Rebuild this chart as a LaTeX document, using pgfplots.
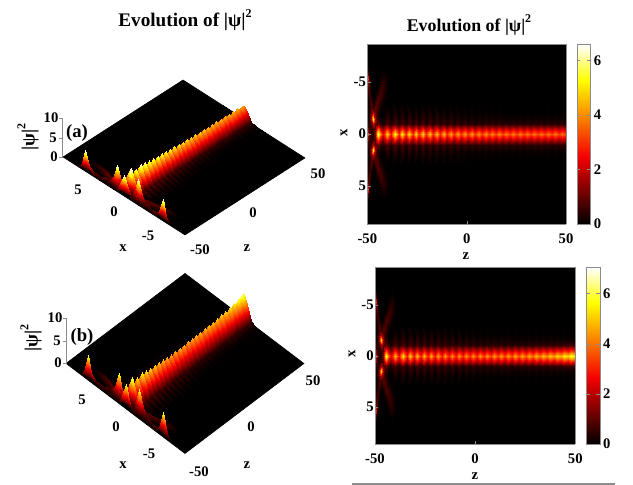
\documentclass[border=0pt]{standalone}
\usepackage{fontspec}
\setmainfont{Liberation Serif}
\usepackage{pgfplots}
\usepackage{pgfplotstable}
\pgfplotsset{compat=1.18}
\pgfplotsset{colormap={ehot}{rgb255(0cm)=(0,0,0) rgb255(3cm)=(245,0,0) rgb255(6.4cm)=(255,255,0) rgb255(8cm)=(255,255,255)}}

% start of the propagation, same for both runs (z x v), x>=0 half
\pgfplotstableread[row sep=crcr]{
z x v\\
-50 0 5.5\\-50 .5 2.5\\-50 1 .6\\-50 1.5 .1\\-50 2 .1\\-50 2.5 .1\\-50 3 .1\\-50 3.5 .1\\-50 4 .2\\-50 4.5 .4\\-50 5 2\\-50 5.5 5.5\\-50 6 1.5\\-50 6.5 .2\\
-49 0 .8\\-49 .5 .6\\-49 1 .5\\-49 1.5 .3\\-49 2 .2\\-49 2.5 .2\\-49 3 .2\\-49 3.5 .4\\-49 4 .8\\-49 4.5 .8\\-49 5 .4\\-49 5.5 .1\\-49 6 0\\-49 6.5 0\\
-48 0 .4\\-48 .5 .4\\-48 1 .6\\-48 1.5 1.8\\-48 2 .9\\-48 2.5 .8\\-48 3 .9\\-48 3.5 .4\\-48 4 .1\\-48 4.5 0\\-48 5 0\\-48 5.5 0\\-48 6 0\\-48 6.5 0\\
-47 0 .3\\-47 .5 .5\\-47 1 2\\-47 1.5 5.5\\-47 2 2\\-47 2.5 .5\\-47 3 .1\\-47 3.5 0\\-47 4 0\\-47 4.5 0\\-47 5 0\\-47 5.5 0\\-47 6 0\\-47 6.5 0\\
-46 0 1.5\\-46 .5 .7\\-46 1 .7\\-46 1.5 1.8\\-46 2 1.1\\-46 2.5 .9\\-46 3 .5\\-46 3.5 .1\\-46 4 0\\-46 4.5 0\\-46 5 0\\-46 5.5 0\\-46 6 0\\-46 6.5 0\\
-45 0 5\\-45 .5 2.9\\-45 1 .7\\-45 1.5 .4\\-45 2 .5\\-45 2.5 .8\\-45 3 .9\\-45 3.5 .6\\-45 4 .2\\-45 4.5 0\\-45 5 0\\-45 5.5 0\\-45 6 0\\-45 6.5 0\\
-44.5 0 6\\-44.5 .5 3.6\\-44.5 1 1\\-44.5 1.5 .5\\-44.5 2 .3\\-44.5 2.5 .5\\-44.5 3 .8\\-44.5 3.5 .8\\-44.5 4 .4\\-44.5 4.5 .1\\-44.5 5 0\\-44.5 5.5 0\\-44.5 6 0\\-44.5 6.5 0\\
-44 0 5\\-44 .5 3\\-44 1 .8\\-44 1.5 .3\\-44 2 .1\\-44 2.5 .3\\-44 3 .5\\-44 3.5 .8\\-44 4 .6\\-44 4.5 .2\\-44 5 0\\-44 5.5 0\\-44 6 0\\-44 6.5 0\\
-43 0 3.4\\-43 .5 1.9\\-43 1 .4\\-43 1.5 .1\\-43 2 0\\-43 2.5 .1\\-43 3 .2\\-43 3.5 .5\\-43 4 .7\\-43 4.5 .6\\-43 5 .3\\-43 5.5 .1\\-43 6 0\\-43 6.5 0\\
-42.25 0 2.4\\-42.25 .5 1.3\\-42.25 1 .25\\-42.25 1.5 .1\\-42.25 2 0\\-42.25 2.5 0\\-42.25 3 .1\\-42.25 3.5 .2\\-42.25 4 .4\\-42.25 4.5 .5\\-42.25 5 .45\\-42.25 5.5 .25\\-42.25 6 .05\\-42.25 6.5 0\\
-41 0 3.5\\-41 .5 2.1\\-41 1 .5\\-41 1.5 .25\\-41 2 .1\\-41 2.5 0\\-41 3 0\\-41 3.5 .1\\-41 4 .2\\-41 4.5 .3\\-41 5 .3\\-41 5.5 .25\\-41 6 .1\\-41 6.5 0\\
-40 0 5\\-40 .5 3\\-40 1 .8\\-40 1.5 .55\\-40 2 .3\\-40 2.5 .1\\-40 3 0\\-40 3.5 0\\-40 4 .05\\-40 4.5 .1\\-40 5 .1\\-40 5.5 .05\\-40 6 0\\-40 6.5 0\\
}\earlytab

% run (a), ridge from z=-40 on
\pgfplotstableread[row sep=crcr]{
z x v\\
-40 0 5\\-40 .5 3\\-40 1 .8\\-40 1.5 .55\\-40 2 .3\\-40 3 0\\
-38 0 2.8\\-38 .5 1.55\\-38 1 .3\\-38 1.5 .1\\-38 2 0\\-38 3 0\\
-36 0 5.4\\-36 .5 3.2\\-36 1 .8\\-36 1.5 .55\\-36 2 .3\\-36 3 0\\
-34.25 0 3\\-34.25 .5 1.65\\-34.25 1 .3\\-34.25 1.5 .1\\-34.25 2 0\\-34.25 3 0\\
-32.5 0 5.2\\-32.5 .5 3.1\\-32.5 1 .8\\-32.5 1.5 .55\\-32.5 2 .3\\-32.5 3 0\\
-30.75 0 3\\-30.75 .5 1.65\\-30.75 1 .3\\-30.75 1.5 .1\\-30.75 2 0\\-30.75 3 0\\
-29 0 5\\-29 .5 3\\-29 1 .75\\-29 1.5 .55\\-29 2 .3\\-29 3 0\\
-27.25 0 3\\-27.25 .5 1.65\\-27.25 1 .3\\-27.25 1.5 .1\\-27.25 2 0\\-27.25 3 0\\
-25.5 0 4.9\\-25.5 .5 2.9\\-25.5 1 .75\\-25.5 1.5 .5\\-25.5 2 .3\\-25.5 3 0\\
-23.75 0 3\\-23.75 .5 1.65\\-23.75 1 .3\\-23.75 1.5 .1\\-23.75 2 0\\-23.75 3 0\\
-22 0 4.8\\-22 .5 2.9\\-22 1 .75\\-22 1.5 .5\\-22 2 .3\\-22 3 0\\
-20.25 0 3\\-20.25 .5 1.65\\-20.25 1 .3\\-20.25 1.5 .1\\-20.25 2 0\\-20.25 3 0\\
-18.5 0 4.7\\-18.5 .5 2.8\\-18.5 1 .7\\-18.5 1.5 .5\\-18.5 2 .28\\-18.5 3 0\\
-16.75 0 3\\-16.75 .5 1.65\\-16.75 1 .3\\-16.75 1.5 .1\\-16.75 2 0\\-16.75 3 0\\
-15 0 4.6\\-15 .5 2.8\\-15 1 .7\\-15 1.5 .45\\-15 2 .25\\-15 3 0\\
-13.25 0 3\\-13.25 .5 1.65\\-13.25 1 .3\\-13.25 1.5 .1\\-13.25 2 0\\-13.25 3 0\\
-11.5 0 4.5\\-11.5 .5 2.7\\-11.5 1 .65\\-11.5 1.5 .42\\-11.5 2 .22\\-11.5 3 0\\
-9.75 0 3\\-9.75 .5 1.65\\-9.75 1 .3\\-9.75 1.5 .1\\-9.75 2 0\\-9.75 3 0\\
-8 0 4.4\\-8 .5 2.6\\-8 1 .6\\-8 1.5 .4\\-8 2 .2\\-8 3 0\\
-6.25 0 3\\-6.25 .5 1.65\\-6.25 1 .3\\-6.25 1.5 .1\\-6.25 2 0\\-6.25 3 0\\
-4.5 0 4.3\\-4.5 .5 2.6\\-4.5 1 .6\\-4.5 1.5 .35\\-4.5 2 .18\\-4.5 3 0\\
-2.75 0 3.1\\-2.75 .5 1.7\\-2.75 1 .3\\-2.75 1.5 .1\\-2.75 2 0\\-2.75 3 0\\
-1 0 4.2\\-1 .5 2.5\\-1 1 .55\\-1 1.5 .3\\-1 2 .14\\-1 3 0\\
.75 0 3.1\\.75 .5 1.7\\.75 1 .3\\.75 1.5 .1\\.75 2 0\\.75 3 0\\
2.5 0 4.2\\2.5 .5 2.5\\2.5 1 .5\\2.5 1.5 .25\\2.5 2 .1\\2.5 3 0\\
4.25 0 3.1\\4.25 .5 1.7\\4.25 1 .3\\4.25 1.5 .1\\4.25 2 0\\4.25 3 0\\
6 0 4.1\\6 .5 2.45\\6 1 .5\\6 1.5 .25\\6 2 .1\\6 3 0\\
7.75 0 3.1\\7.75 .5 1.7\\7.75 1 .3\\7.75 1.5 .1\\7.75 2 0\\7.75 3 0\\
9.5 0 4.1\\9.5 .5 2.45\\9.5 1 .5\\9.5 1.5 .25\\9.5 2 .1\\9.5 3 0\\
11.25 0 3.2\\11.25 .5 1.75\\11.25 1 .32\\11.25 1.5 .1\\11.25 2 0\\11.25 3 0\\
13 0 4\\13 .5 2.4\\13 1 .5\\13 1.5 .22\\13 2 .08\\13 3 0\\
14.75 0 3.2\\14.75 .5 1.75\\14.75 1 .32\\14.75 1.5 .1\\14.75 2 0\\14.75 3 0\\
16.5 0 4\\16.5 .5 2.4\\16.5 1 .5\\16.5 1.5 .22\\16.5 2 .08\\16.5 3 0\\
18.25 0 3.2\\18.25 .5 1.75\\18.25 1 .32\\18.25 1.5 .1\\18.25 2 0\\18.25 3 0\\
20 0 3.9\\20 .5 2.35\\20 1 .45\\20 1.5 .18\\20 2 .06\\20 3 0\\
21.75 0 3.2\\21.75 .5 1.75\\21.75 1 .32\\21.75 1.5 .1\\21.75 2 0\\21.75 3 0\\
23.5 0 3.9\\23.5 .5 2.35\\23.5 1 .45\\23.5 1.5 .18\\23.5 2 .06\\23.5 3 0\\
25.25 0 3.2\\25.25 .5 1.75\\25.25 1 .32\\25.25 1.5 .1\\25.25 2 0\\25.25 3 0\\
27 0 3.9\\27 .5 2.35\\27 1 .45\\27 1.5 .18\\27 2 .06\\27 3 0\\
28.75 0 3.2\\28.75 .5 1.75\\28.75 1 .32\\28.75 1.5 .1\\28.75 2 0\\28.75 3 0\\
30.5 0 3.8\\30.5 .5 2.3\\30.5 1 .45\\30.5 1.5 .18\\30.5 2 .06\\30.5 3 0\\
32.25 0 3.2\\32.25 .5 1.75\\32.25 1 .32\\32.25 1.5 .1\\32.25 2 0\\32.25 3 0\\
34 0 3.8\\34 .5 2.3\\34 1 .45\\34 1.5 .18\\34 2 .06\\34 3 0\\
35.75 0 3.2\\35.75 .5 1.75\\35.75 1 .32\\35.75 1.5 .1\\35.75 2 0\\35.75 3 0\\
37.5 0 3.8\\37.5 .5 2.3\\37.5 1 .45\\37.5 1.5 .18\\37.5 2 .06\\37.5 3 0\\
39.25 0 3.2\\39.25 .5 1.75\\39.25 1 .32\\39.25 1.5 .1\\39.25 2 0\\39.25 3 0\\
41 0 3.8\\41 .5 2.3\\41 1 .45\\41 1.5 .18\\41 2 .06\\41 3 0\\
42.75 0 3.2\\42.75 .5 1.75\\42.75 1 .32\\42.75 1.5 .1\\42.75 2 0\\42.75 3 0\\
44.5 0 3.8\\44.5 .5 2.3\\44.5 1 .45\\44.5 1.5 .18\\44.5 2 .06\\44.5 3 0\\
46.25 0 3.2\\46.25 .5 1.75\\46.25 1 .32\\46.25 1.5 .1\\46.25 2 0\\46.25 3 0\\
48 0 3.7\\48 .5 2.2\\48 1 .45\\48 1.5 .18\\48 2 .06\\48 3 0\\
50 0 3.2\\50 .5 1.75\\50 1 .32\\50 1.5 .1\\50 2 0\\50 3 0\\
}\ridgea

% run (b)
\pgfplotstableread[row sep=crcr]{
z x v\\
-40 0 5\\-40 .5 3\\-40 1 .8\\-40 1.5 .55\\-40 2 .3\\-40 3 0\\
-38 0 2.8\\-38 .5 1.55\\-38 1 .3\\-38 1.5 .1\\-38 2 0\\-38 3 0\\
-36 0 5.3\\-36 .5 3.2\\-36 1 .8\\-36 1.5 .55\\-36 2 .3\\-36 3 0\\
-34.25 0 3\\-34.25 .5 1.65\\-34.25 1 .3\\-34.25 1.5 .1\\-34.25 2 0\\-34.25 3 0\\
-32.5 0 5.1\\-32.5 .5 3.1\\-32.5 1 .8\\-32.5 1.5 .55\\-32.5 2 .3\\-32.5 3 0\\
-30.75 0 3\\-30.75 .5 1.65\\-30.75 1 .3\\-30.75 1.5 .1\\-30.75 2 0\\-30.75 3 0\\
-29 0 4.9\\-29 .5 2.9\\-29 1 .75\\-29 1.5 .55\\-29 2 .3\\-29 3 0\\
-27.25 0 3\\-27.25 .5 1.65\\-27.25 1 .3\\-27.25 1.5 .1\\-27.25 2 0\\-27.25 3 0\\
-25.5 0 4.8\\-25.5 .5 2.9\\-25.5 1 .75\\-25.5 1.5 .5\\-25.5 2 .3\\-25.5 3 0\\
-23.75 0 3\\-23.75 .5 1.65\\-23.75 1 .3\\-23.75 1.5 .1\\-23.75 2 0\\-23.75 3 0\\
-22 0 4.7\\-22 .5 2.8\\-22 1 .7\\-22 1.5 .5\\-22 2 .28\\-22 3 0\\
-20.25 0 3\\-20.25 .5 1.65\\-20.25 1 .3\\-20.25 1.5 .1\\-20.25 2 0\\-20.25 3 0\\
-18.5 0 4.6\\-18.5 .5 2.8\\-18.5 1 .7\\-18.5 1.5 .5\\-18.5 2 .28\\-18.5 3 0\\
-16.75 0 3\\-16.75 .5 1.65\\-16.75 1 .3\\-16.75 1.5 .1\\-16.75 2 0\\-16.75 3 0\\
-15 0 4.5\\-15 .5 2.7\\-15 1 .65\\-15 1.5 .45\\-15 2 .25\\-15 3 0\\
-13.25 0 3\\-13.25 .5 1.65\\-13.25 1 .3\\-13.25 1.5 .1\\-13.25 2 0\\-13.25 3 0\\
-11.5 0 4.4\\-11.5 .5 2.6\\-11.5 1 .65\\-11.5 1.5 .42\\-11.5 2 .22\\-11.5 3 0\\
-9.75 0 3\\-9.75 .5 1.65\\-9.75 1 .3\\-9.75 1.5 .1\\-9.75 2 0\\-9.75 3 0\\
-8 0 4.4\\-8 .5 2.6\\-8 1 .6\\-8 1.5 .4\\-8 2 .2\\-8 3 0\\
-6.25 0 3.1\\-6.25 .5 1.7\\-6.25 1 .3\\-6.25 1.5 .1\\-6.25 2 0\\-6.25 3 0\\
-4.5 0 4.4\\-4.5 .5 2.6\\-4.5 1 .6\\-4.5 1.5 .35\\-4.5 2 .18\\-4.5 3 0\\
-2.75 0 3.2\\-2.75 .5 1.75\\-2.75 1 .32\\-2.75 1.5 .1\\-2.75 2 0\\-2.75 3 0\\
-1 0 4.4\\-1 .5 2.6\\-1 1 .55\\-1 1.5 .3\\-1 2 .14\\-1 3 0\\
.75 0 3.2\\.75 .5 1.75\\.75 1 .32\\.75 1.5 .1\\.75 2 0\\.75 3 0\\
2.5 0 4.4\\2.5 .5 2.6\\2.5 1 .5\\2.5 1.5 .25\\2.5 2 .1\\2.5 3 0\\
4.25 0 3.3\\4.25 .5 1.8\\4.25 1 .33\\4.25 1.5 .1\\4.25 2 0\\4.25 3 0\\
6 0 4.4\\6 .5 2.6\\6 1 .5\\6 1.5 .25\\6 2 .1\\6 3 0\\
7.75 0 3.3\\7.75 .5 1.8\\7.75 1 .33\\7.75 1.5 .1\\7.75 2 0\\7.75 3 0\\
9.5 0 4.5\\9.5 .5 2.7\\9.5 1 .5\\9.5 1.5 .25\\9.5 2 .1\\9.5 3 0\\
11.25 0 3.4\\11.25 .5 1.87\\11.25 1 .34\\11.25 1.5 .1\\11.25 2 0\\11.25 3 0\\
13 0 4.5\\13 .5 2.7\\13 1 .5\\13 1.5 .22\\13 2 .08\\13 3 0\\
14.75 0 3.4\\14.75 .5 1.87\\14.75 1 .34\\14.75 1.5 .1\\14.75 2 0\\14.75 3 0\\
16.5 0 4.5\\16.5 .5 2.7\\16.5 1 .5\\16.5 1.5 .22\\16.5 2 .08\\16.5 3 0\\
18.25 0 3.5\\18.25 .5 1.9\\18.25 1 .35\\18.25 1.5 .1\\18.25 2 0\\18.25 3 0\\
20 0 4.6\\20 .5 2.8\\20 1 .5\\20 1.5 .2\\20 2 .08\\20 3 0\\
21.75 0 3.6\\21.75 .5 2\\21.75 1 .36\\21.75 1.5 .1\\21.75 2 0\\21.75 3 0\\
23.5 0 4.6\\23.5 .5 2.8\\23.5 1 .5\\23.5 1.5 .2\\23.5 2 .08\\23.5 3 0\\
25.25 0 3.7\\25.25 .5 2\\25.25 1 .37\\25.25 1.5 .1\\25.25 2 0\\25.25 3 0\\
27 0 4.7\\27 .5 2.8\\27 1 .5\\27 1.5 .2\\27 2 .08\\27 3 0\\
28.75 0 3.8\\28.75 .5 2.1\\28.75 1 .38\\28.75 1.5 .1\\28.75 2 0\\28.75 3 0\\
30.5 0 4.8\\30.5 .5 2.9\\30.5 1 .55\\30.5 1.5 .2\\30.5 2 .08\\30.5 3 0\\
32.25 0 4\\32.25 .5 2.2\\32.25 1 .4\\32.25 1.5 .1\\32.25 2 0\\32.25 3 0\\
34 0 4.9\\34 .5 2.9\\34 1 .55\\34 1.5 .2\\34 2 .08\\34 3 0\\
35.75 0 4.2\\35.75 .5 2.3\\35.75 1 .42\\35.75 1.5 .1\\35.75 2 0\\35.75 3 0\\
37.5 0 5\\37.5 .5 3\\37.5 1 .55\\37.5 1.5 .2\\37.5 2 .08\\37.5 3 0\\
39.25 0 4.4\\39.25 .5 2.4\\39.25 1 .44\\39.25 1.5 .1\\39.25 2 0\\39.25 3 0\\
41 0 5.2\\41 .5 3.1\\41 1 .6\\41 1.5 .2\\41 2 .08\\41 3 0\\
42.75 0 4.7\\42.75 .5 2.6\\42.75 1 .47\\42.75 1.5 .1\\42.75 2 0\\42.75 3 0\\
44.5 0 5.5\\44.5 .5 3.3\\44.5 1 .65\\44.5 1.5 .2\\44.5 2 .08\\44.5 3 0\\
46.25 0 5.1\\46.25 .5 2.8\\46.25 1 .51\\46.25 1.5 .1\\46.25 2 0\\46.25 3 0\\
48 0 5.9\\48 .5 3.5\\48 1 .7\\48 1.5 .2\\48 2 .08\\48 3 0\\
50 0 5.4\\50 .5 3\\50 1 .54\\50 1.5 .1\\50 2 0\\50 3 0\\
}\ridgeb

\pgfplotsset{
  patchstyle/.style={surf,shader=interp,z buffer=sort,mesh/ordering=y varies},
  heat/.style={
    scale only axis,view={0}{90},colormap name=ehot,
    axis background/.style={fill=black},
    axis line style={draw=black!45},
    tick style={draw=black!45},major tick length=2.5pt,
    tick align=inside,xtick pos=bottom,ytick pos=left,
    xmin=-50,xmax=50,ymin=-8.66,ymax=8.66,y dir=reverse,
    xtick={-50,0,50},xticklabels={-50,0,50},
    ytick={-5,0,5},yticklabels={-5,0,5},
    tick label style={font=\bfseries\fontsize{11}{12}\selectfont},
    xticklabel style={yshift=-3.5pt},
    yticklabel style={xshift=2.5pt},
    point meta min=0,
    colorbar,
    colorbar style={
      width=10pt,xshift=-9pt,
      axis line style={draw=black!45},
      tick style={draw=black!45},
      ytick={0,2,4,6},yticklabels={0,2,4,6},
      major tick length=2.5pt,tick align=inside,
      tick label style={font=\bfseries\fontsize{11}{12}\selectfont},
      yticklabel style={xshift=-1pt},
    },
  },
  box3d/.style={
    hide axis,clip=false,colormap name=ehot,point meta min=0,
    xmin=-50,xmax=50,ymin=-8.66,ymax=8.66,zmin=0,zmax=10,
  },
}
% one half of the field after the other, far side first
\newcommand{\field}[1]{
  \addplot3[patchstyle,mesh/rows=6] table[x=z,y=x,z=v] {#1};
  \addplot3[patchstyle,mesh/rows=14] table[x=z,y=x,z=v] {\earlytab};
  \addplot3[patchstyle,mesh/rows=6] table[x=z,y expr=-\thisrow{x},z=v] {#1};
  \addplot3[patchstyle,mesh/rows=14] table[x=z,y expr=-\thisrow{x},z=v] {\earlytab};
}
\newcommand{\ground}{
  \addplot3[surf,shader=flat,mesh/rows=2] coordinates {(-50,-8.66,0) (50,-8.66,0) (-50,8.66,0) (50,8.66,0)};
}
\newcommand{\psisq}{|ψ|\raisebox{.5em}{\small 2}}
\tikzset{lab/.style={font=\bfseries\fontsize{11}{12}\selectfont,inner sep=0pt}}

\begin{document}
\begin{tikzpicture}[x=0.75pt,y=-0.75pt]
\path[use as bounding box] (0,0) rectangle (633,485);

% (a) surface
\begin{axis}[box3d,at={(138pt,-118.1pt)},anchor=origin,
  x={(0.9pt,0.5775pt)},y={(-5.28pt,3.375pt)},z={(0pt,2.925pt)},point meta max=5.5]
\ground
\field{\ridgea}
\end{axis}
% (b) surface
\begin{axis}[box3d,at={(138.75pt,-272.6pt)},anchor=origin,
  x={(0.8925pt,0.675pt)},y={(-5.15pt,3.9pt)},z={(0pt,3.375pt)},point meta max=6.5]
\ground
\field{\ridgeb}
\end{axis}

% heat maps
\begin{axis}[heat,at={(275.5pt,-168pt)},anchor=south west,width=149pt,height=134.8pt,point meta max=6.6]
\field{\ridgea}
\end{axis}
\begin{axis}[heat,at={(281.25pt,-333pt)},anchor=south west,width=150.2pt,height=132.5pt,point meta max=7.05]
\field{\ridgeb}
\end{axis}

% z axes of the surfaces
\draw[black!45] (59,118)--(62,118)--(62,157)--(59,157) (59,138)--(62,138);
\draw[black!45] (63,318)--(66,318)--(66,363)--(63,363) (63,341)--(66,341);

% titles and labels
\node[font=\bfseries\fontsize{14.4}{16}\selectfont,inner sep=0pt] at (185,20) {Evolution of \psisq};
\node[font=\bfseries\fontsize{13.4}{15}\selectfont,inner sep=0pt] at (469,25) {Evolution of \psisq};
\node[lab,font=\bfseries\fontsize{14}{15}\selectfont,rotate=90] at (28,137) {\psisq};
\node[lab,font=\bfseries\fontsize{14}{15}\selectfont,rotate=90] at (31,338) {\psisq};
\node[lab,font=\bfseries\fontsize{14}{16}\selectfont] at (77,133) {(a)};
\node[lab,font=\bfseries\fontsize{14}{16}\selectfont] at (82,337) {(b)};
\node[lab] at (51,118) {10};\node[lab] at (53,138) {5};\node[lab] at (54,157) {0};
\node[lab] at (55,318) {10};\node[lab] at (57,341) {5};\node[lab] at (58,363) {0};
\node[lab] at (78,190) {5};\node[lab] at (114,212) {0};\node[lab] at (148,236) {-5};
\node[lab] at (123,248) {x};\node[lab] at (200,250) {-50};\node[lab] at (247,248) {z};
\node[lab] at (253,213) {0};\node[lab] at (318,174) {50};
\node[lab] at (82,400) {5};\node[lab] at (116,427) {0};\node[lab] at (149,454) {-5};
\node[lab] at (123,465) {x};\node[lab] at (199,472) {-50};\node[lab] at (247,465) {z};
\node[lab] at (251,427) {0};\node[lab] at (313,381) {50};
\node[lab,rotate=90] at (344,133) {x};\node[lab] at (466,256) {z};
\node[lab,rotate=90] at (352,354) {x};\node[lab] at (475,476) {z};
\draw[black!45,line width=.8pt] (352,484)--(615,484);
\end{tikzpicture}
\end{document}
